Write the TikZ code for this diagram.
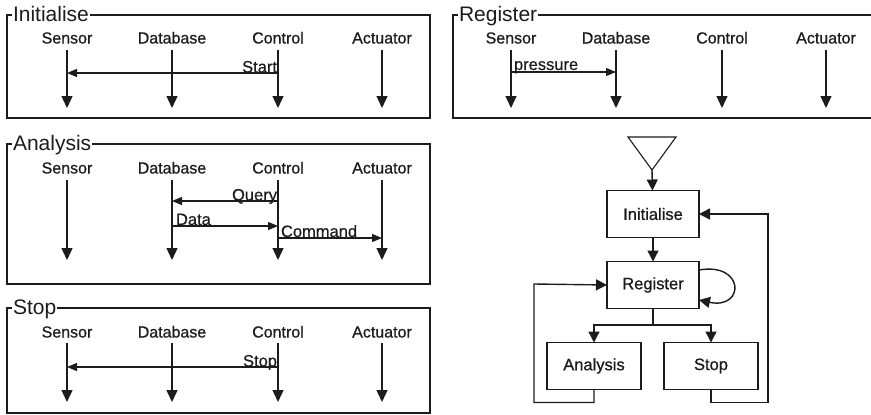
\documentclass[tikz,border=0pt]{standalone}
\usepackage{fontspec}
\setmainfont{Liberation Sans}
\newfontfamily\heavysans[FakeBold=0.8]{Liberation Sans}
\newfontfamily\medsans[FakeBold=0.5]{Liberation Sans}
\usetikzlibrary{arrows.meta}
\definecolor{ink}{HTML}{1C1C1C}
\tikzset{
  x=1pt, y=-1pt,
  every node/.style={text=ink, inner sep=0pt, outer sep=0pt},
  frametitle/.style={font=\fontsize{21}{23}\selectfont, fill=white, inner xsep=1pt, anchor=base west},
  framebox/.style={draw=ink, line width=1.3pt},
  lifename/.style={font=\heavysans\fontsize{16}{18}\selectfont, anchor=base},
  lifeline/.style={draw=ink, line width=1.4pt, -{Triangle[length=12pt,width=11pt]}},
  msg/.style={draw=ink, line width=1.1pt, -{Triangle[length=10pt,width=8pt]}},
  msglabel/.style={font=\medsans\fontsize{16.5}{18}\selectfont},
  state/.style={draw=ink, line width=1.4pt, minimum width=92pt, minimum height=47pt,
                font=\heavysans\fontsize{16.5}{18}\selectfont},
  flow/.style={draw=ink, line width=1.4pt, -{Triangle[length=11pt,width=11pt]}},
}
% one sequence panel: prefix, x offset, name baseline, lifeline top, lifeline bottom
\newcommand\lifepanel[5]{%
  \foreach \nm/\tag/\dx in {Sensor/S/67, Database/D/172, Control/C/278, Actuator/A/382}{
    \node[lifename] (#1\tag) at (#2+\dx, #3) {\nm};
    \coordinate (#1\tag top) at (#2+\dx, #4);
    \coordinate (#1\tag end) at (#2+\dx, #5);
    \draw[lifeline] (#1\tag top) -- (#1\tag end);
  }%
}
\begin{document}
\begin{tikzpicture}
\useasboundingbox (0,0) rectangle (871,415);

% ---------- Initialise ----------
\draw[framebox] (7,15) rectangle (430,118);
\node[frametitle] (tInit) at (12,21.5) {Initialise};
\lifepanel{i}{0}{43.5}{50}{108}
\draw[msg] (iCtop |- 0,73) -- (iStop |- 0,73);
\node[msglabel, anchor=base east] (lStart) at (277,72.5) {Start};

% ---------- Register ----------
\draw[framebox] (871,15) -- (453,15) -- (453,118) -- (871,118);
\node[frametitle] (tReg) at (458,21.5) {Register};
\lifepanel{r}{444}{43.5}{50}{108}
\draw[msg] (rStop |- 0,72) -- (rDtop |- 0,72);
\node[msglabel, anchor=base west] (lPress) at (514,70) {pressure};

% ---------- Analysis ----------
\draw[framebox] (7,144) rectangle (430,284);
\node[frametitle] (tAna) at (12,150.5) {Analysis};
\lifepanel{a}{0}{173.5}{180}{260}
\draw[msg] (aCtop |- 0,201) -- (aDtop |- 0,201);
\node[msglabel, anchor=base east] (lQuery) at (277,200.5) {Query};
\draw[msg] (aDtop |- 0,226) -- (aCtop |- 0,226);
\node[msglabel, anchor=base west] (lData) at (176,225) {Data};
\draw[msg] (aCtop |- 0,238) -- (aAtop |- 0,238);
\node[msglabel, anchor=base west] (lCmd) at (281,237) {Command};

% ---------- Stop ----------
\draw[framebox] (7,308) rectangle (430,413);
\node[frametitle] (tStop) at (12,314.5) {Stop};
\lifepanel{s}{0}{337.5}{343}{402}
\draw[msg] (sCtop |- 0,367) -- (sStop |- 0,367);
\node[msglabel, anchor=base east] (lStop) at (277,366.5) {Stop};

% ---------- state chart ----------
\coordinate (tip) at (652,170);
\draw[ink, line width=1.1pt] (628,137) -- (676,137) -- (tip) -- cycle;
\node[state] (init) at (653,214) {Initialise};
\node[state] (reg)  at (653,285) {Register};
\node[state, minimum width=94pt] (ana)  at (594,366) {Analysis};
\node[state, minimum width=94pt] (stp)  at (711,366) {Stop};

\draw[flow] (tip) -- (init);
\draw[flow] (init) -- (reg);
\draw[flow] ([yshift=15pt]reg.east) .. controls (745,262) and (745,310) .. ([yshift=-15pt]reg.east);
\coordinate (split) at (653,325);
\draw[ink, line width=1.4pt] (reg) -- (split);
\draw[flow] (split) -| (ana);
\draw[flow] (split) -| (stp);
\draw[flow] (ana.south) -- ++(0,13) -| (534,284) -- (reg.west);
\draw[flow] (stp.south) -- ++(0,13) -| (768,214) -- (init.east);
\end{tikzpicture}
\end{document}
